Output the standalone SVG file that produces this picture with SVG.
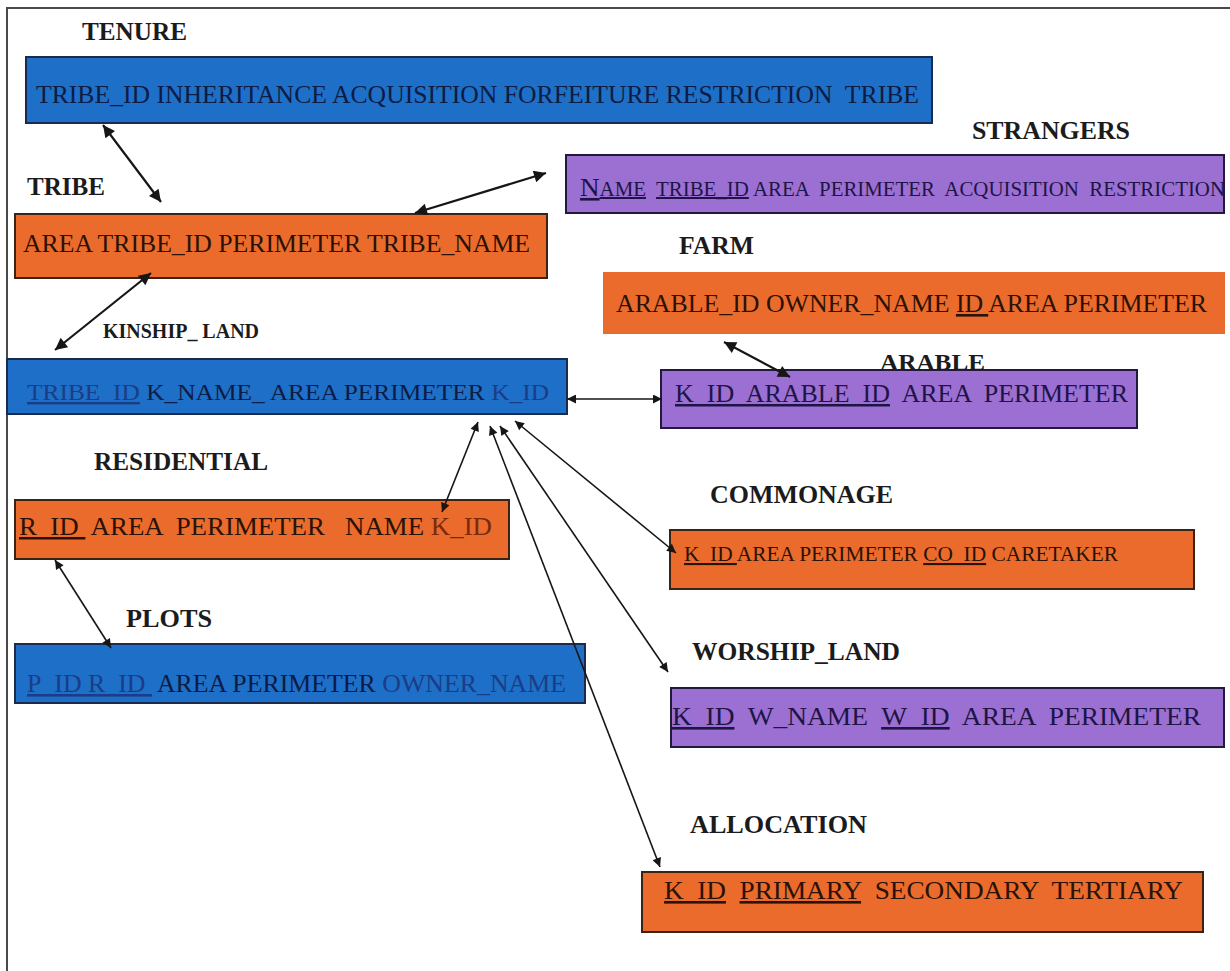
<svg xmlns="http://www.w3.org/2000/svg" width="1230" height="971" viewBox="0 0 1230 971">
  <defs>
    <style>
      .box-blue { fill: #1e6fc7; stroke: #1a2b4e; stroke-width: 2; }
      .box-orange { fill: #ea6b2c; stroke: #3a2312; stroke-width: 2; }
      .box-purple { fill: #9b70d2; stroke: #221a3c; stroke-width: 2; }
      .label { font-family: "Liberation Serif", "Times New Roman", serif; font-weight: bold; font-size: 26px; fill: #1b1b1b; }
      .field { font-family: "Liberation Serif", "Times New Roman", serif; font-size: 26px; white-space: pre; }
      .t-blue { fill: #0d1c44; }
      .t-blue-key { fill: #1b3c86; }
      .t-orange { fill: #2b1206; }
      .t-orange-key { fill: #7a2a0c; }
      .t-purple { fill: #1e1446; }
      .u { text-decoration: underline; }
      .frame { stroke: #4a4a4a; stroke-width: 2; fill: none; }
      .conn-thick { stroke: #161616; stroke-width: 2.2; fill: none; marker-start: url(#head-lg); marker-end: url(#head-lg); }
      .conn-thin { stroke: #161616; stroke-width: 1.6; fill: none; marker-start: url(#head-sm); marker-end: url(#head-sm); }
    </style>
    <marker id="head-lg" viewBox="0 0 10 10" refX="10" refY="5" markerWidth="15" markerHeight="12" markerUnits="userSpaceOnUse" orient="auto-start-reverse">
      <path d="M0,0 L10,5 L0,10 z" fill="#161616"/>
    </marker>
    <marker id="head-sm" viewBox="0 0 10 10" refX="10" refY="5" markerWidth="11" markerHeight="9" markerUnits="userSpaceOnUse" orient="auto-start-reverse">
      <path d="M0,0 L10,5 L0,10 z" fill="#161616"/>
    </marker>
  </defs>

  <rect x="0" y="0" width="1230" height="971" fill="#ffffff"/>

  <!-- page frame: top and left rules -->
  <path class="frame" d="M7,971 L7,8 L1230,8"/>

  <g id="tenure">
    <text class="label" x="82" y="40" textLength="105" lengthAdjust="spacingAndGlyphs">TENURE</text>
    <rect class="box-blue" x="26" y="57" width="906" height="66"/>
    <text class="field t-blue" x="36" y="103" textLength="883" lengthAdjust="spacingAndGlyphs">TRIBE_ID INHERITANCE ACQUISITION FORFEITURE RESTRICTION  TRIBE</text>
  </g>

  <g id="tribe">
    <text class="label" x="27" y="195" textLength="78" lengthAdjust="spacingAndGlyphs">TRIBE</text>
    <rect class="box-orange" x="15" y="214" width="532" height="64"/>
    <text class="field t-orange" x="23" y="252" textLength="507" lengthAdjust="spacingAndGlyphs">AREA TRIBE_ID PERIMETER TRIBE_NAME</text>
  </g>

  <g id="strangers">
    <text class="label" x="972" y="139" textLength="158" lengthAdjust="spacingAndGlyphs">STRANGERS</text>
    <rect class="box-purple" x="566" y="155" width="658" height="58"/>
    <text class="field t-purple" x="580" y="196" textLength="645" lengthAdjust="spacingAndGlyphs"><tspan class="u">N<tspan font-size="20">AME</tspan></tspan><tspan font-size="20">  </tspan><tspan class="u" font-size="20">TRIBE_ID</tspan><tspan font-size="20"> AREA  PERIMETER  ACQUISITION  RESTRICTION</tspan></text>
  </g>

  <g id="farm">
    <text class="label" x="679" y="254" textLength="75" lengthAdjust="spacingAndGlyphs">FARM</text>
    <rect class="box-orange" x="604" y="273" width="620" height="60" style="stroke: #e86a2e;"/>
    <text class="field t-orange" x="616" y="312" textLength="591" lengthAdjust="spacingAndGlyphs">ARABLE_ID OWNER_NAME <tspan class="u">ID </tspan>AREA PERIMETER</text>
  </g>

  <g id="kinship-land">
    <text class="label" x="103" y="338" font-size="20" textLength="156" lengthAdjust="spacingAndGlyphs" style="font-size: 20px;">KINSHIP_ LAND</text>
    <rect class="box-blue" x="7" y="359" width="560" height="55"/>
    <text class="field t-blue" x="27" y="400" font-size="24" style="font-size: 24px;" textLength="522" lengthAdjust="spacingAndGlyphs"><tspan class="u t-blue-key">TRIBE_ID</tspan> K_NAME_ AREA PERIMETER <tspan class="t-blue-key">K_ID</tspan></text>
  </g>

  <g id="arable">
    <rect class="box-purple" x="661" y="370" width="476" height="58"/>
    <text class="label" x="880" y="370" textLength="105" lengthAdjust="spacingAndGlyphs" style="font-size: 24px;">ARABLE</text>
    <text class="field t-purple" x="675" y="402" style="font-size: 25px;" textLength="453" lengthAdjust="spacingAndGlyphs"><tspan class="u">K_ID  ARABLE_ID</tspan>  AREA  PERIMETER</text>
  </g>

  <g id="residential">
    <text class="label" x="94" y="470" textLength="174" lengthAdjust="spacingAndGlyphs">RESIDENTIAL</text>
    <rect class="box-orange" x="15" y="500" width="494" height="59"/>
    <text class="field t-orange" x="19" y="535" style="font-size: 25px;" textLength="473" lengthAdjust="spacingAndGlyphs"><tspan class="u">R_ID </tspan> AREA  PERIMETER   NAME <tspan class="t-orange-key">K_ID</tspan></text>
  </g>

  <g id="commonage">
    <text class="label" x="710" y="503" textLength="183" lengthAdjust="spacingAndGlyphs">COMMONAGE</text>
    <rect class="box-orange" x="670" y="530" width="524" height="59"/>
    <text class="field t-orange" x="684" y="561" style="font-size: 21px;" textLength="434" lengthAdjust="spacingAndGlyphs"><tspan class="u">K_ID </tspan>AREA PERIMETER <tspan class="u">CO_ID</tspan> CARETAKER</text>
  </g>

  <g id="plots">
    <text class="label" x="126" y="627" textLength="86" lengthAdjust="spacingAndGlyphs">PLOTS</text>
    <rect class="box-blue" x="15" y="644" width="570" height="59"/>
    <text class="field t-blue" x="27" y="692" textLength="539" lengthAdjust="spacingAndGlyphs"><tspan class="u t-blue-key">P_ID R_ID </tspan> AREA PERIMETER <tspan class="t-blue-key">OWNER_NAME</tspan></text>
  </g>

  <g id="worship-land">
    <text class="label" x="692" y="660" textLength="208" lengthAdjust="spacingAndGlyphs">WORSHIP_LAND</text>
    <rect class="box-purple" x="671" y="688" width="553" height="59"/>
    <text class="field t-purple" x="672" y="725" textLength="529" lengthAdjust="spacingAndGlyphs"><tspan class="u">K_ID</tspan>  W_NAME  <tspan class="u">W_ID</tspan>  AREA  PERIMETER</text>
  </g>

  <g id="allocation">
    <text class="label" x="690" y="833" textLength="177" lengthAdjust="spacingAndGlyphs">ALLOCATION</text>
    <rect class="box-orange" x="642" y="872" width="561" height="60"/>
    <text class="field t-orange" x="664" y="899" textLength="519" lengthAdjust="spacingAndGlyphs"><tspan class="u">K_ID</tspan>  <tspan class="u">PRIMARY</tspan>  SECONDARY  TERTIARY</text>
  </g>

  <g id="connectors">
    <line class="conn-thick" x1="103" y1="125" x2="161" y2="202"/>
    <line class="conn-thick" x1="415" y1="213" x2="546" y2="173"/>
    <line class="conn-thick" x1="151" y1="273" x2="55" y2="350"/>
    <line class="conn-thick" x1="724" y1="342" x2="790" y2="377"/>
    <line class="conn-thin" x1="567" y1="399" x2="662" y2="399"/>
    <line class="conn-thin" x1="442" y1="512" x2="478" y2="422"/>
    <line class="conn-thin" x1="55" y1="560" x2="111" y2="648"/>
    <line class="conn-thin" x1="515" y1="421" x2="676" y2="553"/>
    <line class="conn-thin" x1="500" y1="426" x2="668" y2="672"/>
    <line class="conn-thin" x1="490" y1="426" x2="660" y2="867"/>
  </g>
</svg>
